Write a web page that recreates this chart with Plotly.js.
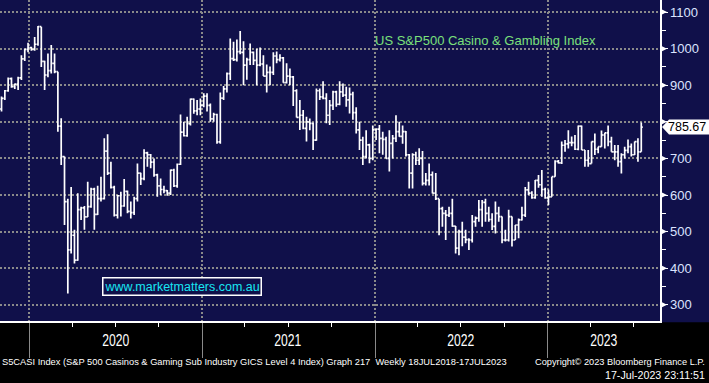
<!DOCTYPE html>
<html><head><meta charset="utf-8">
<script src="https://cdn.plot.ly/plotly-3.0.1.min.js"></script>
<style>html,body{margin:0;padding:0;background:#000;} #chart{width:709px;height:383px;}</style>
</head><body><div id="chart"></div>
<script>
// Weekly bars, first week starting Monday 2019-11-04
const firstWeek = [2019, 10, 4];
const openVals = [
835,864,885,918,896,903,920,972,998,1003,
998,1012,1060,965,928,940,960,937,788,705,
582,450,490,422,560,565,540,568,616,547,
590,590,720,660,621,545,598,570,610,555,
552,590,660,645,715,710,690,655,625,615,
612,605,668,625,684,772,762,795,862,830,
835,845,870,845,808,820,745,865,890,932,
973,970,992,990,955,970,990,968,955,958,
925,935,935,980,970,975,907,925,923,885,
812,818,782,800,796,750,885,868,864,818,
845,882,848,882,873,860,875,825,778,750,
705,737,700,778,780,755,752,700,741,755,
773,760,773,710,660,710,695,700,632,640,
655,605,590,563,550,545,550,515,455,500,
485,478,477,527,537,560,580,550,533,514,
550,541,477,477,541,477,518,532,545,614,
605,593,640,628,615,592,595,650,692,688,
736,740,743,743,725,788,723,695,686,746,
725,732,764,770,746,718,718,691,710,722,
732,710,746,718];
const highVals = [
869,887,921,921,905,923,982,1000,1016,1005,
1032,1062,1060,967,987,1010,987,937,810,705,
590,622,505,605,568,570,636,620,620,625,
650,755,766,691,625,600,609,644,612,582,
595,686,661,725,718,712,700,658,645,625,
614,670,672,686,820,800,814,864,864,860,
864,878,878,850,825,822,880,898,935,1028,
1019,1025,1048,1020,975,1014,992,1000,1003,982,
957,951,990,992,985,977,960,946,925,889,
860,832,814,809,798,891,891,911,878,860,
885,885,911,905,896,894,882,840,800,759,
777,740,790,782,791,773,759,777,764,818,
800,790,775,712,714,718,728,720,660,686,
664,660,590,568,559,568,590,515,505,527,
505,482,545,541,586,586,590,568,550,582,
568,541,505,560,541,518,536,568,622,636,
610,641,655,668,620,615,650,695,696,746,
750,777,760,764,790,790,723,723,746,768,
732,776,770,790,759,737,737,714,732,752,
741,746,755,798];
const lowVals = [
828,860,882,893,890,887,914,966,990,994,
994,1008,950,887,922,932,933,773,682,518,
331,440,413,420,532,505,540,565,505,545,
582,588,655,618,541,536,541,568,550,536,
545,582,627,640,677,673,650,595,600,605,
598,600,622,620,682,760,759,790,822,818,
818,840,828,800,800,740,740,860,880,914,
966,965,985,900,915,955,955,900,952,925,
880,900,928,960,965,907,905,900,843,812,
778,780,746,777,723,748,860,862,796,791,
832,841,845,868,841,823,806,768,723,682,
700,687,695,750,714,710,700,664,700,745,
759,740,705,618,618,682,682,626,626,626,
604,586,490,513,477,540,513,440,435,460,
468,450,470,513,527,513,527,527,504,495,
527,468,473,473,459,477,482,530,540,600,
590,590,620,595,590,573,595,650,686,685,
718,727,733,723,722,723,677,677,686,709,
714,732,727,733,718,695,677,659,700,714,
705,709,691,718];
const closeVals = [
864,885,918,896,903,920,972,998,1003,998,
1012,1060,965,928,940,960,937,788,705,582,
450,490,422,560,565,540,568,616,547,590,
590,720,660,621,545,598,570,610,555,552,
590,660,645,715,710,690,655,625,615,612,
605,668,625,684,772,762,795,862,830,835,
845,870,845,808,820,745,865,890,932,973,
970,992,990,955,970,990,968,955,958,925,
935,935,980,970,975,907,925,923,885,812,
818,782,800,796,750,885,868,864,818,845,
882,848,882,873,860,875,825,778,750,705,
737,700,778,780,755,752,700,741,755,773,
760,773,710,660,710,695,700,632,640,655,
605,590,563,550,545,550,515,455,500,485,
478,477,527,537,560,580,550,533,514,550,
541,477,477,541,477,518,532,545,614,605,
593,640,628,615,592,595,650,692,688,736,
740,743,743,725,788,723,695,686,746,725,
732,764,770,746,718,718,691,710,722,732,
710,746,718,785.67];

const lastPrice = 785.67;
const lastPriceText = '785.67';
const yTickVals = [300,400,500,600,700,800,900,1000,1100];
const yTickText = ['300','400','500','600','700','','900','1000','1100']; // 800 sits under the last-price tag
const yearStarts = ['2020-01-01','2021-01-01','2022-01-01','2023-01-01'];
const yearLabels = ['2020','2021','2022','2023'];
const yearLabelDates = ['2020-07-02','2021-07-02','2022-07-02','2023-04-30'];
const titleText = 'US S&P500 Casino & Gambling Index';
const watermarkText = 'www.marketmatters.com.au';
const footerLeft = 'S5CASI Index (S&P 500 Casinos & Gaming Sub Industry GICS Level 4 Index) Graph 217  Weekly 18JUL2018-17JUL2023';
const footerRight1 = 'Copyright\u00a9 2023 Bloomberg Finance L.P.';
const footerRight2 = '17-Jul-2023 23:11:51';

const dates = [];
for (let i = 0; i < closeVals.length; i++) {
  const d = new Date(Date.UTC(firstWeek[0], firstWeek[1], firstWeek[2]) + i * 7 * 86400000);
  dates.push(d.toISOString().slice(0, 10));
}

const esc = s => s.replace(/&/g, '&amp;');
const NAVY = '#10104a';
const GRID = '#8a8a8a';
const sans = 'Liberation Sans, Arial, sans-serif';

// font size that makes a text span a given pixel width
const measureCtx = document.createElement('canvas').getContext('2d');
function fitSize(text, width) {
  measureCtx.font = '100px "Liberation Sans", Arial, sans-serif';
  return 100 * width / measureCtx.measureText(text).width;
}

const trace = {
  type: 'ohlc', x: dates, open: openVals, high: highVals, low: lowVals, close: closeVals,
  increasing: {line: {color: '#ffffff', width: 1.7}},
  decreasing: {line: {color: '#ffffff', width: 1.7}},
  tickwidth: 0.45, hoverinfo: 'skip', showlegend: false
};

const shapes = [
  {type: 'rect', xref: 'paper', yref: 'paper', x0: -0.01, x1: 1.1, y0: -0.25, y1: -0.004,
   fillcolor: '#000000', line: {width: 0}, layer: 'below'}
];
yTickVals.forEach(v => shapes.push({
  type: 'path', xref: 'paper', yref: 'y', xsizemode: 'pixel', ysizemode: 'pixel',
  xanchor: 1, yanchor: v, path: 'M0,-3.5 L7,0 L0,3.5 Z',
  fillcolor: '#ffffff', line: {width: 0}, layer: 'above'
}));
shapes.push({
  type: 'path', xref: 'paper', yref: 'y', xsizemode: 'pixel', ysizemode: 'pixel',
  xanchor: 1, yanchor: lastPrice, path: 'M2,0 L9,7.5 L49,7.5 L49,-7.5 L9,-7.5 Z',
  fillcolor: '#ffffff', line: {width: 0}, layer: 'above'
});

const yearFitWidth = 27;

const annotations = [
  {xref: 'paper', yref: 'paper', x: 373 / 660, y: 1 - 40 / 321, xanchor: 'left', yanchor: 'middle',
   text: esc(titleText), showarrow: false, font: {family: sans, size: 13, color: '#7be07b'}},
  {xref: 'paper', yref: 'paper', x: 182.5 / 660, y: 1 - 286 / 321, xanchor: 'center', yanchor: 'middle',
   text: watermarkText, showarrow: false, font: {family: sans, size: 12.5, color: '#18e6f2'},
   bordercolor: '#ffffff', borderwidth: 1.5, borderpad: 1, bgcolor: NAVY},
  {xref: 'paper', yref: 'y', x: 1, y: lastPrice, xanchor: 'left', yanchor: 'middle', xshift: 6,
   text: lastPriceText, showarrow: false, font: {family: sans, size: 12.5, color: '#000000'}},
  {xref: 'paper', yref: 'paper', x: 0, y: 0, yshift: -41, xanchor: 'left', yanchor: 'middle', align: 'left',
   text: esc(footerLeft), showarrow: false, font: {family: sans, size: fitSize(footerLeft, 505), color: '#ffffff'}},
  {xref: 'paper', yref: 'paper', x: 707 / 660, y: 0, yshift: -41, xanchor: 'right', yanchor: 'middle', align: 'right',
   text: esc(footerRight1), showarrow: false, font: {family: sans, size: fitSize(footerRight1, 170), color: '#ffffff'}},
  {xref: 'paper', yref: 'paper', x: 707 / 660, y: 0, yshift: -54, xanchor: 'right', yanchor: 'middle', align: 'right',
   text: footerRight2, showarrow: false, font: {family: sans, size: fitSize(footerRight2, 100), color: '#ffffff'}}
];
yearLabels.forEach((t, k) => annotations.push({
  xref: 'x', yref: 'paper', x: yearLabelDates[k], y: 0, yshift: -19, xanchor: 'center', yanchor: 'middle',
  text: t, showarrow: false, font: {family: sans, size: 16, color: '#ffffff'}
}));

const layout = {
  width: 709, height: 383,
  margin: {l: 0, r: 49, t: 0, b: 62, pad: 0},
  paper_bgcolor: NAVY, plot_bgcolor: NAVY,
  showlegend: false,
  xaxis: {
    type: 'date', range: ['2019-10-31 18:15', '2023-08-25 13:30'],
    rangeslider: {visible: false},
    tickmode: 'array', tickvals: yearStarts, showticklabels: false,
    ticks: 'outside', ticklen: 35, tickcolor: GRID, tickwidth: 1,
    showgrid: true, gridcolor: GRID, griddash: '2px,2px', gridwidth: 2,
    minor: {dtick: 'M3', tick0: '2019-10-01', ticks: 'outside', ticklen: 4, tickcolor: '#ffffff', tickwidth: 1, showgrid: false},
    showline: true, linecolor: '#ffffff', linewidth: 1.5, zeroline: false, fixedrange: true
  },
  yaxis: {
    side: 'right', range: [255.6, 1133], tickmode: 'array', tickvals: yTickVals, ticktext: yTickText,
    ticks: 'outside', ticklen: 6, tickcolor: '#ffffff', tickwidth: 1,
    minor: {dtick: 50, tick0: 0, ticks: 'outside', ticklen: 4, tickcolor: '#ffffff', tickwidth: 1, showgrid: false},
    tickfont: {family: sans, size: 13, color: '#dce4ff'},
    showgrid: true, gridcolor: GRID, griddash: '2px,2px', gridwidth: 2,
    showline: true, linecolor: '#ffffff', linewidth: 1.5, zeroline: false, fixedrange: true
  },
  shapes: shapes,
  annotations: annotations
};

Plotly.newPlot('chart', [trace], layout, {staticPlot: true, displayModeBar: false}).then(gd => {
  // condense the year labels to the narrow Bloomberg look (centered, so extents stay symmetric)
  gd.querySelectorAll('text.annotation-text').forEach(el => {
    if (yearLabels.indexOf(el.textContent) >= 0) {
      el.setAttribute('textLength', yearFitWidth);
      el.setAttribute('lengthAdjust', 'spacingAndGlyphs');
    }
  });
});
</script>
</body></html>
